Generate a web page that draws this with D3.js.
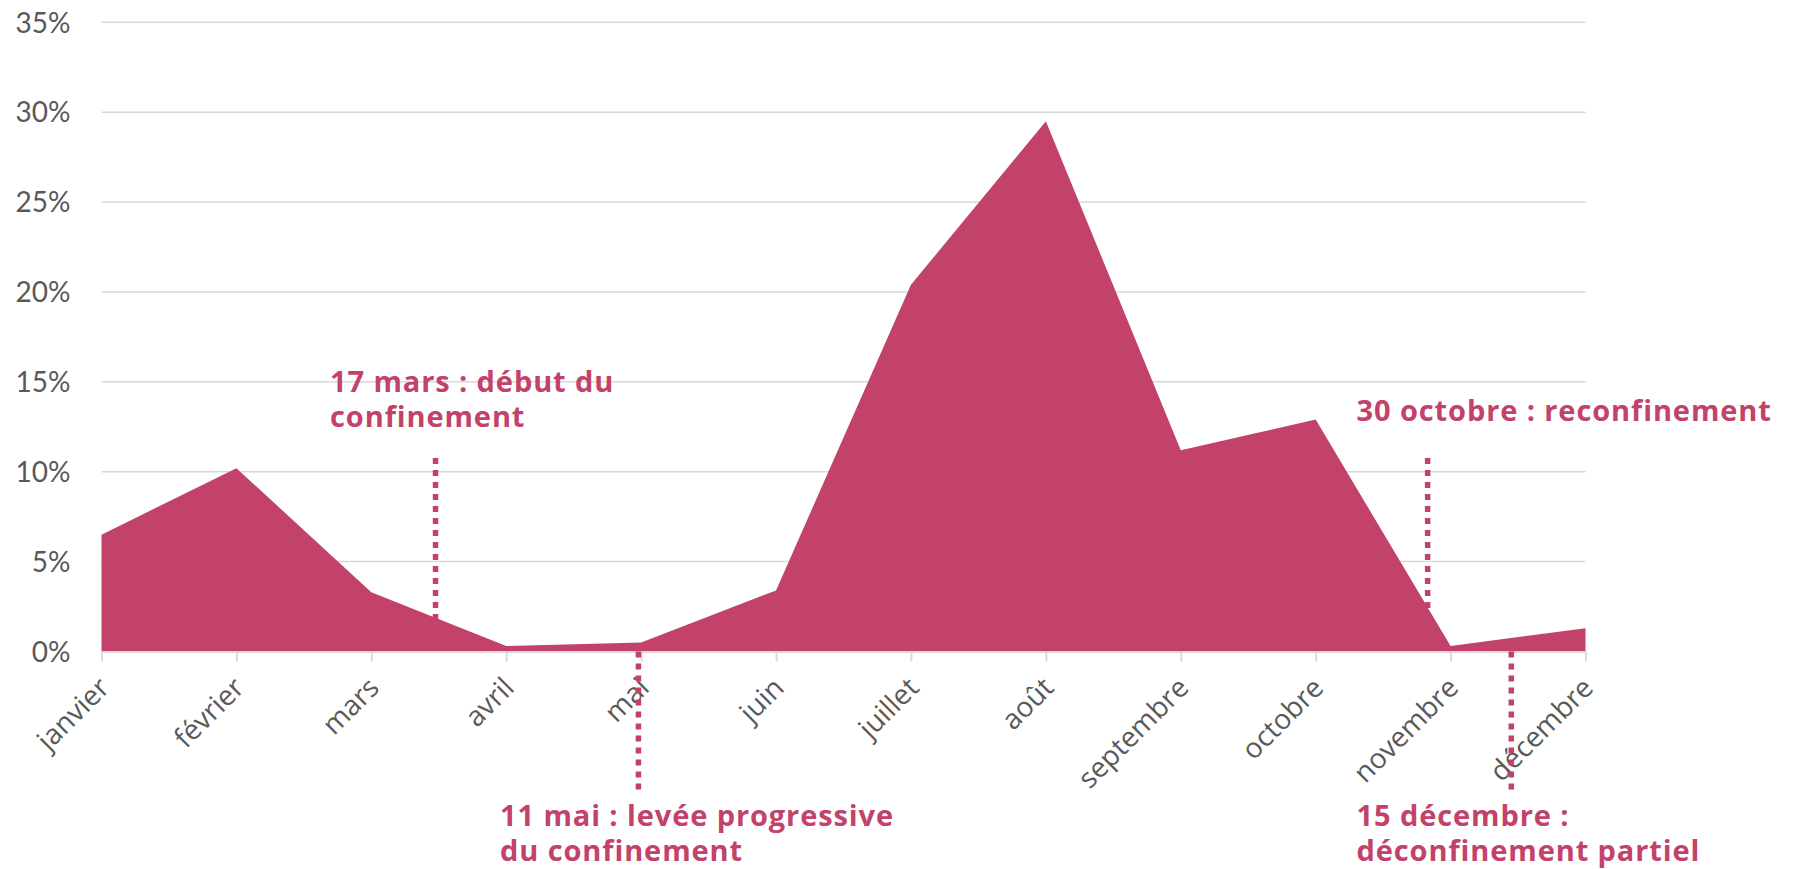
<!DOCTYPE html>
<html>
<head>
<meta charset="utf-8">
<script src="https://cdn.jsdelivr.net/npm/d3@7"></script>
<style>
  html, body { margin: 0; padding: 0; background: #ffffff; }
  svg { display: block; }
</style>
</head>
<body>
<svg id="chart" width="1798" height="869"></svg>
<script>
// ---- data ----
const months = ["janvier","février","mars","avril","mai","juin","juillet","août","septembre","octobre","novembre","décembre"];
const values = [6.5, 10.2, 3.3, 0.3, 0.5, 3.4, 20.4, 29.5, 11.2, 12.9, 0.3, 1.3];
const yTicks = [0, 5, 10, 15, 20, 25, 30, 35];
// annotations: position as fractional month index
const annoPos = [2.476, 3.98, 9.83, 10.45];
const annoLines = [
  ["17 mars : début du", "confinement"],
  ["11 mai : levée progressive", "du confinement"],
  ["30 octobre : reconfinement"],
  ["15 décembre :", "déconfinement partiel"]
];
const annoSide = ["top", "bottom", "top", "bottom"];

(function () {
// ---- layout ----
const mLeft = 101.5, mRight = 1585.5, mTop = 22.3, mBottom = 651.5;
const color = "#c2426a";
const gray = "#595959";
const fontY = "Lato, 'Open Sans', sans-serif";
const font = "'Open Sans', 'Noto Sans', sans-serif";

const svg = d3.select("#chart");

const x = d3.scaleLinear().domain([0, months.length - 1]).range([mLeft, mRight]);
const y = d3.scaleLinear().domain([0, 35]).range([mBottom, mTop]);

// gridlines
svg.append("g").selectAll("line").data(yTicks.filter(d => d > 0)).join("line")
  .attr("x1", mLeft).attr("x2", mRight)
  .attr("y1", d => y(d)).attr("y2", d => y(d))
  .attr("stroke", "#d9d9d9").attr("stroke-width", 1.5);

// y labels
const yAxis = d3.axisLeft(y).tickValues(yTicks).tickFormat(d => d + "%").tickSize(0).tickPadding(0);
const gy = svg.append("g").attr("transform", `translate(${mLeft - 31},0)`).call(yAxis);
gy.select(".domain").remove();
gy.selectAll("text").attr("font-family", fontY).attr("font-size", 28).attr("fill", gray).attr("dy", "0.35em");

// dotted annotation lines (top ones behind area)
const lineTopY = 458, lineBottomY = 795;
svg.append("g").selectAll("line").data(annoPos.filter((d, i) => annoSide[i] === "top")).join("line")
  .attr("x1", d => x(d)).attr("x2", d => x(d))
  .attr("y1", lineTopY).attr("y2", mBottom)
  .attr("stroke", color).attr("stroke-width", 5.5).attr("stroke-dasharray", "6,6");

// area
const area = d3.area()
  .x((d, i) => x(i))
  .y0(y(0))
  .y1(d => y(d));
svg.append("path").datum(values).attr("d", area).attr("fill", color);

// x axis
const xAxis = d3.axisBottom(x).tickValues(d3.range(months.length)).tickFormat(i => months[i]).tickSize(10).tickSizeOuter(0);
const gx = svg.append("g").attr("transform", `translate(0,${mBottom})`).call(xAxis);
gx.select(".domain").attr("stroke", "#d9d9d9").attr("stroke-width", 2);
gx.selectAll(".tick line").attr("stroke", "#d9d9d9").attr("stroke-width", 2);
gx.selectAll("text")
  .attr("font-family", font).attr("font-size", 28).attr("fill", gray)
  .attr("text-anchor", "end")
  .attr("dy", 0).attr("y", 0)
  .attr("transform", "translate(9,38) rotate(-45)");

// bottom dotted lines on top of axis
svg.append("g").selectAll("line").data(annoPos.filter((d, i) => annoSide[i] === "bottom")).join("line")
  .attr("x1", d => x(d)).attr("x2", d => x(d))
  .attr("y1", mBottom).attr("y2", lineBottomY)
  .attr("stroke", color).attr("stroke-width", 5.5).attr("stroke-dasharray", "6,6");

// annotation texts
const annoTextPos = [
  {x: 330, y: 392},
  {x: 500, y: 826},
  {x: 1356.5, y: 421},
  {x: 1356.5, y: 826}
];
const lineGap = 35;
annoLines.forEach((lines, i) => {
  const t = svg.append("text")
    .attr("x", annoTextPos[i].x).attr("y", annoTextPos[i].y)
    .attr("font-family", font).attr("font-weight", "bold").attr("font-size", 29)
    .attr("letter-spacing", 0.9)
    .attr("fill", color);
  lines.forEach((s, j) => {
    t.append("tspan").attr("x", annoTextPos[i].x).attr("dy", j === 0 ? 0 : lineGap).text(s);
  });
});
})();
</script>
</body>
</html>
